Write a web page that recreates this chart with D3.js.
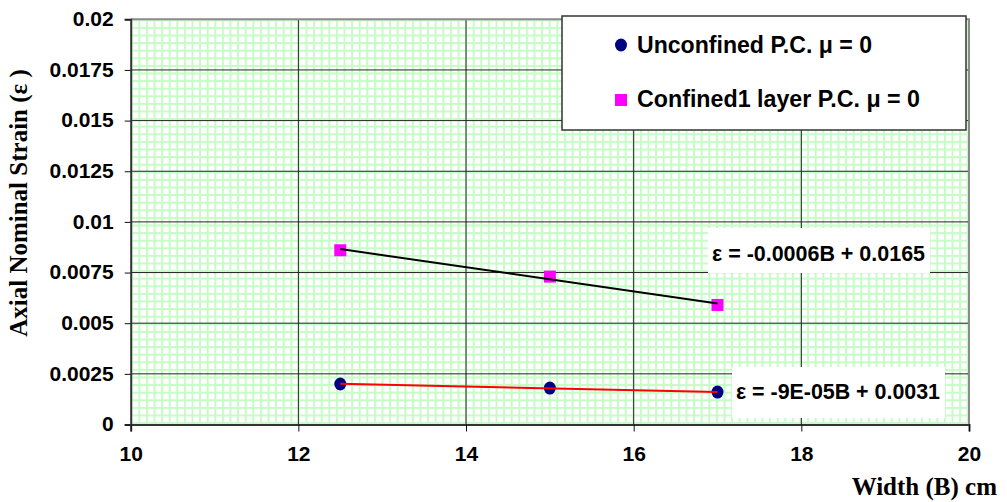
<!DOCTYPE html>
<html>
<head>
<meta charset="utf-8">
<script src="https://cdn.jsdelivr.net/npm/d3@7"></script>
<style>
  body { margin: 0; background: #fff; }
  svg { display: block; }
</style>
</head>
<body>
<svg id="chart"></svg>
<script>
// Axial strain vs width chart

const widths = [12.5, 15, 17];
const unconfined = [0.002, 0.0018, 0.0016];
const confined = [0.0086, 0.0073, 0.0059];

const seriesNames = ["Unconfined P.C. \u03bc = 0", "Confined1 layer P.C. \u03bc = 0"];
const equations = ["\u03b5 = -9E-05B + 0.0031", "\u03b5 = -0.0006B + 0.0165"];

const xTicks = [10, 12, 14, 16, 18, 20];
const yTicks = [0, 0.0025, 0.005, 0.0075, 0.01, 0.0125, 0.015, 0.0175, 0.02];
const yTickLabels = ["0", "0.0025", "0.005", "0.0075", "0.01", "0.0125", "0.015", "0.0175", "0.02"];

const W = 1007, H = 502;
const plot = { left: 130.7, right: 969, top: 19.3, bottom: 424.5 };

const svg = d3.select("#chart").attr("width", W).attr("height", H);

const x = d3.scaleLinear().domain([10, 20]).range([plot.left, plot.right]);
const y = d3.scaleLinear().domain([0, 0.02]).range([plot.bottom, plot.top]);

// green grid pattern fill
const defs = svg.append("defs");
const pat = defs.append("pattern")
    .attr("id", "grid")
    .attr("patternUnits", "userSpaceOnUse")
    .attr("x", plot.left).attr("y", plot.top)
    .attr("width", 7.6).attr("height", 7.6);
pat.append("rect").attr("width", 7.6).attr("height", 7.6).attr("fill", "#fff");
pat.append("rect").attr("x", 0).attr("y", 0).attr("width", 2).attr("height", 7.6).attr("fill", "#c6fcc6");
pat.append("rect").attr("x", 0).attr("y", 0).attr("width", 7.6).attr("height", 2).attr("fill", "#c6fcc6");

svg.append("rect")
    .attr("x", plot.left).attr("y", plot.top)
    .attr("width", plot.right - plot.left).attr("height", plot.bottom - plot.top)
    .attr("fill", "url(#grid)");

// major gridlines
svg.append("g").selectAll("line").data(yTicks.slice(1, -1)).join("line")
    .attr("x1", plot.left).attr("x2", plot.right)
    .attr("y1", d => y(d)).attr("y2", d => y(d))
    .attr("stroke", "#222").attr("stroke-width", 1);
svg.append("g").selectAll("line").data(xTicks.slice(1, -1)).join("line")
    .attr("y1", plot.top).attr("y2", plot.bottom)
    .attr("x1", d => x(d)).attr("x2", d => x(d))
    .attr("stroke", "#222").attr("stroke-width", 1);

// top and right border
svg.append("path")
    .attr("d", `M${plot.left},${plot.top}H${plot.right}V${plot.bottom}`)
    .attr("fill", "none").attr("stroke", "#8a8a8a").attr("stroke-width", 2);

// axes
const yAxis = svg.append("g")
    .attr("transform", `translate(${plot.left},0)`)
    .call(d3.axisLeft(y).tickValues(yTicks).tickSize(6).tickPadding(11)
        .tickFormat((d, i) => yTickLabels[i]));
const xAxis = svg.append("g")
    .attr("transform", `translate(0,${plot.bottom})`)
    .call(d3.axisBottom(x).tickValues(xTicks).tickSize(7).tickPadding(11));

[yAxis, xAxis].forEach(a => {
    a.select(".domain").attr("stroke", "#333").attr("stroke-width", 2);
    a.selectAll(".tick line").attr("stroke", "#111").attr("stroke-width", 1);
    a.selectAll(".tick text")
        .attr("fill", "#000")
        .style("font-family", "'Liberation Sans', Arial, sans-serif")
        .style("font-weight", "bold")
        .style("font-size", "21px");
});
yAxis.selectAll(".tick text").attr("dy", "0.3em");
xAxis.selectAll(".tick text").attr("dy", "0.9em");

// markers
const ptsU = widths.map((w, i) => ({ x: w, y: unconfined[i] }));
const ptsC = widths.map((w, i) => ({ x: w, y: confined[i] }));

svg.append("g").selectAll("rect").data(ptsC).join("rect")
    .attr("x", d => x(d.x) - 6).attr("y", d => y(d.y) - 6)
    .attr("width", 12).attr("height", 12)
    .attr("fill", "#ff00ff");
svg.append("g").selectAll("ellipse").data(ptsU).join("ellipse")
    .attr("cx", d => x(d.x)).attr("cy", d => y(d.y))
    .attr("rx", 6).attr("ry", 6.5)
    .attr("fill", "#000080");

// linear trendlines (least squares through the points)
function fit(pts) {
    const mx = d3.mean(pts, d => d.x), my = d3.mean(pts, d => d.y);
    const sxy = d3.sum(pts, d => (d.x - mx) * (d.y - my));
    const sxx = d3.sum(pts, d => (d.x - mx) ** 2);
    const m = sxy / sxx;
    return xv => my + m * (xv - mx);
}
const lineGen = f => d3.line().x(d => x(d)).y(d => y(f(d)));
const xEnds = d3.extent(widths);

svg.append("path").datum(xEnds)
    .attr("d", lineGen(fit(ptsC)))
    .attr("stroke", "#000").attr("stroke-width", 2).attr("fill", "none");
svg.append("path").datum(xEnds)
    .attr("d", lineGen(fit(ptsU)))
    .attr("stroke", "#ff0000").attr("stroke-width", 2).attr("fill", "none");

// equation labels
const eqFont = "'Liberation Sans', Arial, sans-serif";
const eqBoxes = [
    { text: equations[1], x: 708, y: 228, w: 222, h: 45, tx: 712, ty: 261 },
    { text: equations[0], x: 732, y: 367, w: 213, h: 51, tx: 736, ty: 399 }
];
eqBoxes.forEach(b => {
    svg.append("rect").attr("x", b.x).attr("y", b.y).attr("width", b.w).attr("height", b.h).attr("fill", "#fff");
    svg.append("text").attr("x", b.tx).attr("y", b.ty)
        .style("font-family", eqFont).style("font-weight", "bold").style("font-size", "22.5px")
        .attr("textLength", b.w - 9).attr("lengthAdjust", "spacingAndGlyphs")
        .text(b.text);
});

// legend
const legend = svg.append("g");
legend.append("rect")
    .attr("x", 562).attr("y", 16).attr("width", 404).attr("height", 114)
    .attr("fill", "#fff").attr("stroke", "#333").attr("stroke-width", 1.5);
legend.append("ellipse").attr("cx", 621).attr("cy", 45).attr("rx", 6).attr("ry", 6.5).attr("fill", "#000080");
legend.append("rect").attr("x", 615).attr("y", 94).attr("width", 12).attr("height", 12).attr("fill", "#ff00ff");
[[seriesNames[0], 52.7, 235], [seriesNames[1], 106.7, 283]].forEach(([t, by, len]) => {
    legend.append("text").attr("x", 637).attr("y", by)
        .style("font-family", eqFont).style("font-weight", "bold").style("font-size", "23.5px")
        .attr("textLength", len).attr("lengthAdjust", "spacingAndGlyphs")
        .text(t);
});

// axis titles
svg.append("text")
    .attr("transform", "translate(27,203) rotate(-90)")
    .attr("text-anchor", "middle")
    .style("font-family", "'Liberation Serif', 'Times New Roman', serif")
    .style("font-weight", "bold").style("font-size", "25px")
    .text("Axial Nominal Strain (\u03b5 )");
svg.append("text")
    .attr("x", 997).attr("y", 495)
    .attr("text-anchor", "end")
    .style("font-family", "'Liberation Serif', 'Times New Roman', serif")
    .style("font-weight", "bold").style("font-size", "25px")
    .text("Width (B) cm");
</script>
</body>
</html>
